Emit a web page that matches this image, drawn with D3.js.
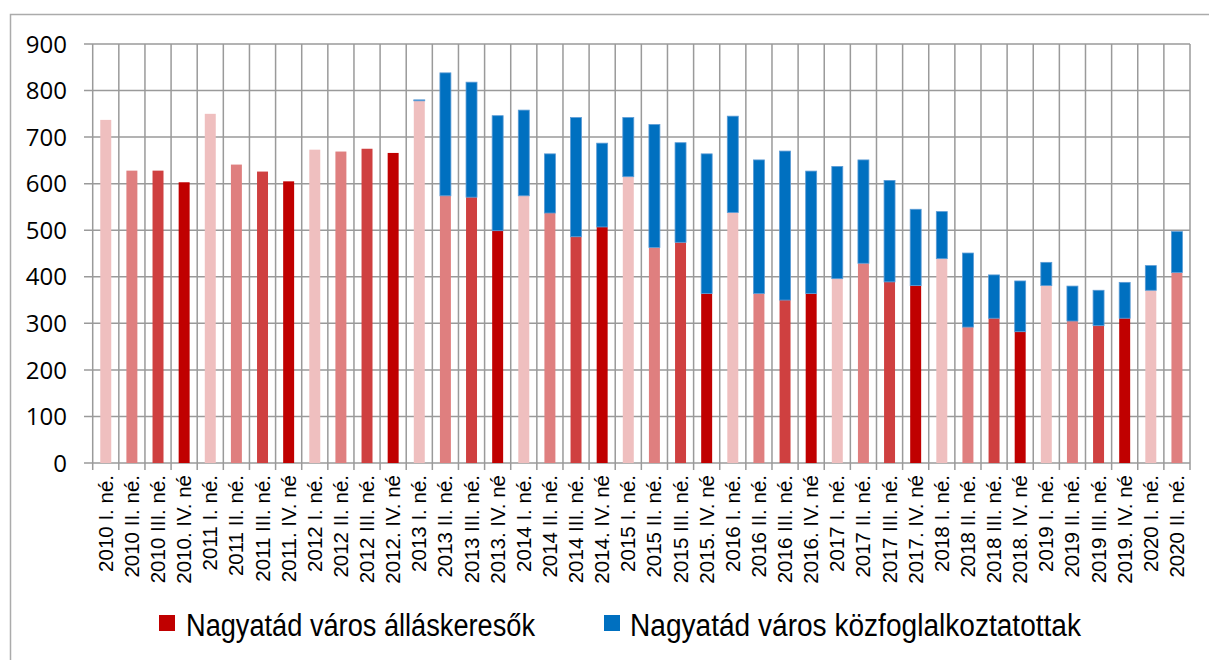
<!DOCTYPE html>
<html>
<head>
<meta charset="utf-8">
<script src="https://cdn.jsdelivr.net/npm/d3@7"></script>
<style>
  body { margin: 0; background: #fff; }
  svg { display: block; }
</style>
</head>
<body>
<div id="chart"></div>
<script>
// quarter labels (as written in the source chart)
var quarters = [
  "2010 I. né.", "2010 II. né.", "2010 III. né.", "2010. IV. né",
  "2011 I. né.", "2011 II. né.", "2011 III. né.", "2011. IV. né",
  "2012 I. né.", "2012 II. né.", "2012 III. né.", "2012. IV. né",
  "2013 I. né.", "2013 II. né.", "2013 III. né.", "2013. IV. né",
  "2014 I. né.", "2014 II. né.", "2014 III. né.", "2014. IV. né",
  "2015 I. né.", "2015 II. né.", "2015 III. né.", "2015. IV. né",
  "2016 I. né.", "2016 II. né.", "2016 III. né.", "2016. IV. né",
  "2017 I. né.", "2017 II. né.", "2017 III. né.", "2017. IV. né",
  "2018 I. né.", "2018 II. né.", "2018 III. né.", "2018. IV. né",
  "2019 I. né.", "2019 II. né.", "2019 III. né.", "2019. IV. né",
  "2020 I. né.", "2020 II. né."
];

// álláskeresők (job seekers)
var jobSeekers = [
  737, 628, 628, 603, 750, 641, 626, 605, 673, 669, 675, 666,
  778, 574, 571, 499, 574, 537, 486, 507, 615, 463, 474, 364,
  538, 364, 350, 364, 396, 429, 389, 381, 439, 292, 311, 282,
  381, 305, 295, 311, 371, 409
];

// közfoglalkoztatottak (public workers)
var publicWorkers = [
  0, 0, 0, 0, 0, 0, 0, 0, 0, 0, 0, 0,
  2, 264, 247, 247, 184, 127, 256, 180, 127, 264, 214, 300,
  207, 287, 320, 263, 241, 222, 218, 164, 101, 159, 93, 109,
  50, 75, 76, 77, 53, 88
];

var yTicks = [0, 100, 200, 300, 400, 500, 600, 700, 800, 900];

var seriesNames = ["Nagyatád város álláskeresők", "Nagyatád város közfoglalkoztatottak"];

var width = 1209;
var height = 660;

// plot box
var plot = { left: 92.7, right: 1190, top: 44, bottom: 463 };

var svg = d3.select("#chart")
  .append("svg")
  .attr("width", width)
  .attr("height", height);

// outer chart frame
svg.append("rect")
  .attr("x", 10.5)
  .attr("y", 14.5)
  .attr("width", 1300)
  .attr("height", 800)
  .attr("fill", "none")
  .attr("stroke", "#ababab")
  .attr("stroke-width", 1.5);

var xscale = d3.scaleBand()
  .domain(quarters)
  .range([plot.left, plot.right])
  .padding(0);

var yscale = d3.scaleLinear()
  .domain([0, 900])
  .range([plot.bottom, plot.top]);

// shade of red per quarter
var redShade = d3.scaleOrdinal()
  .domain(["I", "II", "III", "IV"])
  .range(["#efbfbf", "#df7f7f", "#cf4040", "#c00000"]);
var blue = "#0070c0";

function quarterOf(label) {
  return label.match(/(IV|III|II|I)\./)[1];
}

var grid = svg.append("g").attr("stroke", "#9a9a9a").attr("stroke-width", 1.5);

// horizontal grid lines (with tick stubs to the left)
grid.selectAll("line.h")
  .data(yTicks)
  .enter()
  .append("line")
  .attr("class", "h")
  .attr("x1", 84)
  .attr("x2", plot.right)
  .attr("y1", d => yscale(d))
  .attr("y2", d => yscale(d));

// vertical grid lines at category boundaries (with tick stubs below)
var bounds = quarters.map(d => xscale(d)).concat([plot.right]);
grid.selectAll("line.v")
  .data(bounds)
  .enter()
  .append("line")
  .attr("class", "v")
  .attr("x1", d => d)
  .attr("x2", d => d)
  .attr("y1", plot.top)
  .attr("y2", plot.bottom + 7);

// stacked bars
var barW = xscale.bandwidth() * 0.42;
var bars = svg.append("g");
quarters.forEach(function (q, i) {
  var cx = xscale(q) + xscale.bandwidth() / 2;
  var a = jobSeekers[i];
  var b = publicWorkers[i];
  bars.append("rect")
    .attr("x", cx - barW / 2)
    .attr("width", barW)
    .attr("y", yscale(a))
    .attr("height", yscale(0) - yscale(a))
    .attr("fill", redShade(quarterOf(q)));
  if (b > 0) {
    bars.append("rect")
      .attr("x", cx - barW / 2)
      .attr("width", barW)
      .attr("y", yscale(a + b))
      .attr("height", yscale(a) - yscale(a + b))
      .attr("fill", blue)
      .attr("stroke", "#5b9bd5")
      .attr("stroke-width", 0.8);
  }
});

// y axis labels
svg.append("g")
  .selectAll("text")
  .data(yTicks)
  .enter()
  .append("text")
  .attr("x", 67)
  .attr("y", d => yscale(d))
  .attr("dy", "0.36em")
  .attr("text-anchor", "end")
  .style("font-family", "'Open Sans', 'Liberation Sans', sans-serif")
  .style("font-size", "24px")
  .style("fill", "#000")
  .text(d => d);

// x axis labels, rotated
svg.append("g")
  .selectAll("text")
  .data(quarters)
  .enter()
  .append("text")
  .attr("transform", d => `translate(${xscale(d) + xscale.bandwidth() / 2 + 7}, 475) rotate(-90)`)
  .attr("text-anchor", "end")
  .style("font-family", "'Liberation Sans', Arial, sans-serif")
  .style("font-size", "20.5px")
  .style("fill", "#000")
  .text(d => d);

// legend
var legendItems = [
  { name: seriesNames[0], color: "#c00000", x: 159, textX: 186, len: 349 },
  { name: seriesNames[1], color: blue, x: 604, textX: 630, len: 451 }
];
var legend = svg.append("g");
legendItems.forEach(function (d) {
  legend.append("rect")
    .attr("x", d.x)
    .attr("y", 615)
    .attr("width", 16)
    .attr("height", 16)
    .attr("fill", d.color);
  legend.append("text")
    .attr("x", d.textX)
    .attr("y", 636)
    .attr("textLength", d.len)
    .attr("lengthAdjust", "spacingAndGlyphs")
    .style("font-family", "'Liberation Sans Narrow', 'Liberation Sans', sans-serif")
    .style("font-size", "31px")
    .style("fill", "#000")
    .text(d.name);
});
</script>
</body>
</html>
